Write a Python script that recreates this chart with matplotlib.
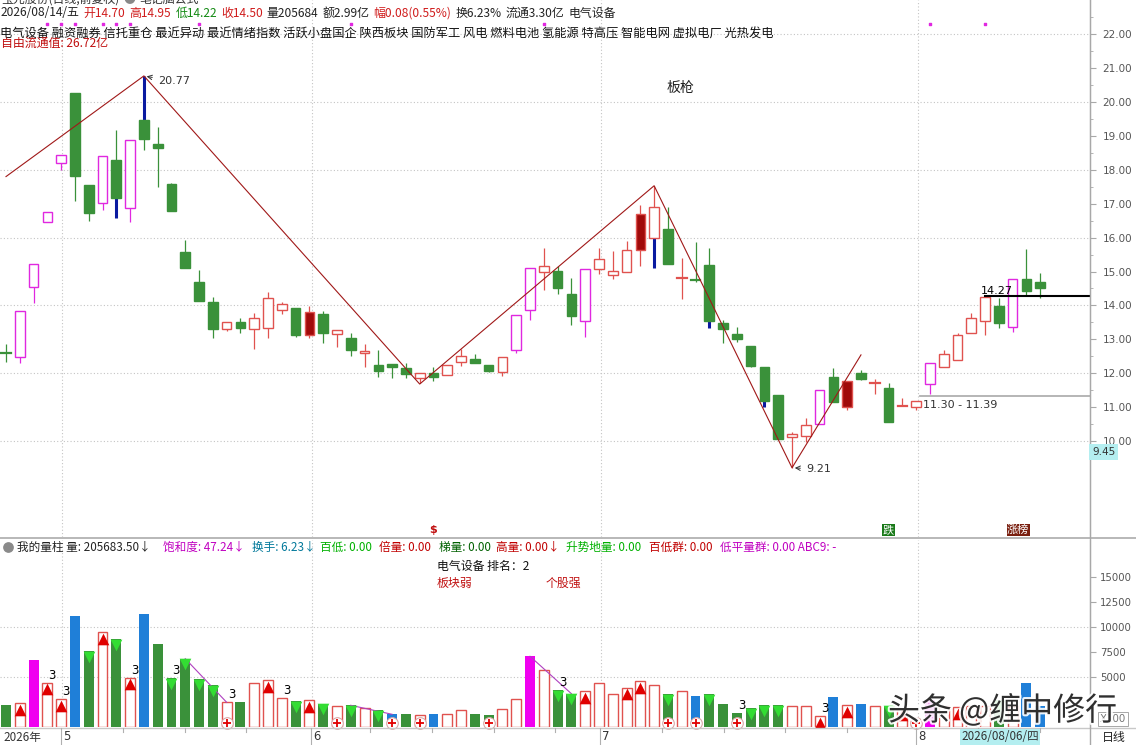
import matplotlib
matplotlib.use("Agg")
import matplotlib.pyplot as plt
import matplotlib.patches as mpatches
import matplotlib.patheffects as pe
import numpy as np

plt.rcParams['font.family'] = ['Noto Sans CJK SC', 'DejaVu Sans']

W, H = 1136, 745

# ---- daily candles (前复权) ----
opens = [12.60, 12.47, 14.55, 16.45, 18.19, 20.26, 17.54, 17.03, 18.29, 16.87,
         19.47, 18.75, 17.58, 15.58, 14.69, 14.10, 13.30, 13.50, 13.30, 13.32,
         13.86, 13.91, 13.82, 13.75, 13.16, 13.03, 12.59, 12.24, 12.26, 12.14,
         11.85, 12.00, 11.95, 12.32, 12.41, 12.23, 12.04, 12.67, 13.85, 14.98,
         15.01, 14.34, 13.55, 15.08, 14.89, 14.98, 16.70, 15.98, 16.25, 14.80,
         14.77, 15.19, 13.49, 13.15, 12.80, 12.19, 11.37, 10.13, 10.15, 10.49,
         11.89, 11.77, 12.00, 11.70, 11.56, 11.01, 11.01, 11.67, 12.17, 12.39,
         13.18, 13.54, 13.98, 13.35, 14.77, 14.70]
highs = [12.86, 13.83, 15.22, 16.75, 18.43, 20.28, 17.54, 18.40, 19.17, 18.88,
         20.77, 19.25, 17.62, 15.93, 15.04, 14.24, 13.50, 13.63, 13.77, 14.39,
         14.11, 13.91, 13.99, 13.83, 13.26, 13.18, 12.86, 12.68, 12.26, 12.31,
         12.00, 12.19, 12.24, 12.71, 12.56, 12.23, 12.47, 13.71, 15.09, 15.69,
         15.15, 14.82, 15.06, 15.69, 15.61, 15.91, 16.96, 17.53, 16.89, 15.40,
         15.88, 15.69, 13.57, 13.37, 12.80, 12.19, 11.37, 10.27, 10.67, 11.49,
         12.16, 11.77, 12.10, 11.83, 11.70, 11.26, 11.19, 12.31, 12.68, 13.20,
         13.77, 14.27, 14.21, 14.77, 15.66, 14.95]
lows = [12.34, 12.30, 14.06, 16.45, 17.99, 17.09, 16.48, 16.81, 16.59, 16.47,
        18.59, 17.50, 16.77, 15.09, 14.14, 13.05, 13.25, 13.18, 12.71, 13.03,
        13.75, 13.06, 13.05, 12.88, 12.78, 12.51, 12.19, 11.88, 11.85, 11.85,
        11.70, 11.78, 11.95, 12.22, 12.29, 12.04, 11.93, 12.61, 13.57, 14.45,
        14.34, 13.41, 13.08, 14.92, 14.77, 14.98, 15.17, 15.10, 15.21, 14.18,
        14.70, 13.34, 12.88, 12.91, 12.17, 10.99, 10.07, 9.21, 9.98, 10.49,
        11.16, 10.91, 11.80, 11.40, 10.57, 11.01, 10.91, 11.40, 12.17, 12.39,
        13.18, 13.13, 13.32, 13.23, 14.31, 14.22]
closes = [12.60, 13.83, 15.22, 16.75, 18.43, 17.83, 16.74, 18.40, 17.18, 18.88,
          18.92, 18.63, 16.77, 15.09, 14.14, 13.30, 13.50, 13.32, 13.62, 14.21,
          14.03, 13.14, 13.12, 13.19, 13.26, 12.68, 12.65, 12.07, 12.17, 11.97,
          12.00, 11.88, 12.24, 12.52, 12.29, 12.07, 12.47, 13.71, 15.09, 15.15,
          14.52, 13.70, 15.06, 15.37, 15.01, 15.63, 15.63, 16.89, 15.21, 14.82,
          14.76, 13.55, 13.31, 13.02, 12.21, 11.19, 10.07, 10.21, 10.47, 11.49,
          11.16, 10.99, 11.84, 11.72, 10.57, 11.02, 11.19, 12.31, 12.58, 13.13,
          13.62, 14.26, 13.47, 14.77, 14.43, 14.50]
# g=green solid, r=red hollow, m=magenta hollow, d=dark red solid
candle_kind = list("gmmmmggmgm" "ggggggrgrr" "rgdgrgrggg" "rgrrggrmmr"
                   "ggmrrrdrgr" "gggggggrrm" "gdgrgrrmrr" "rrgmgg")
blue_low_shadow = [8, 47, 51, 55]
blue_high_shadow = [10]

# zigzag turning points
zz_idx = [0, 10, 30, 47, 57, 62]
zz_px = [17.80, 20.77, 11.68, 17.53, 9.21, 12.54]

# magenta signal dots on the top row
dot_idx = [3, 4, 5, 7, 8, 9, 14, 25, 39, 67, 71]

# ---- volume (x100) ----
vol = [2170, 2400, 6670, 4430, 2770, 11100, 7570, 9500, 8770, 4930,
       11270, 8300, 4900, 6830, 4770, 4170, 2470, 2500, 4370, 4670,
       2930, 2600, 2670, 2330, 2070, 2170, 1930, 1670, 1270, 1270,
       1230, 1270, 1330, 1670, 1270, 1170, 1830, 2830, 7070, 5730,
       3670, 3330, 3570, 4430, 3330, 3930, 4570, 4230, 3270, 3570,
       3070, 3270, 2270, 1400, 1870, 2170, 2170, 2070, 2070, 1100,
       3000, 2170, 2270, 2070, 2130, 1830, 670, 2670, 2070, 2000,
       2070, 2070, 2670, 2070, 4400, 2057]
vol_kind = list("grmrrbgrgr" "bgggggrgrr" "rgrgrgrgbg" "rbrrggrrmr"
                "ggrrrrrrgr" "bggggggrrr" "brbrgrrmrr" "rrgrbb")
vol_up = [1, 3, 4, 7, 9, 19, 22, 42, 45, 46, 59, 61, 65, 69]
vol_down = [6, 8, 12, 13, 14, 15, 21, 23, 25, 27, 40, 41, 48, 51, 54, 55, 56, 64, 72]
vol_three = [3, 4, 9, 12, 16, 20, 40, 53, 59]
vol_plus = [16, 24, 28, 30, 35, 48, 50, 53, 66]
vol_links = [(13, 16), (25, 28), (38, 41)]

price_ticks = np.arange(10, 23)
vol_ticks = [5000, 7500, 10000, 12500, 15000]

GREEN = "#3a913a"
RED = "#e0524f"
MAG = "#e028e0"
DRED = "#a00a0a"
BLUE = "#0a1aa0"
VBLUE = "#1f7fd8"
GRID = "#c4c4c4"
AX = "#a8a8a8"

fig = plt.figure(figsize=(W / 100, H / 100), dpi=100)
fig.patch.set_facecolor("white")

def frac(x0, y0, x1, y1):
    return [x0 / W, 1 - y1 / H, (x1 - x0) / W, (y1 - y0) / H]

n = len(opens)
x_lo, x_hi = -6 / 13.79, (1090 - 6) / 13.79

# ---------- main price panel ----------
ax = fig.add_axes(frac(0, 0, 1090, 537))
ax.set_xlim(x_lo, x_hi)
ax.set_ylim(10 - 96 / 33.9, 10 + 441 / 33.9)
for s in ["top", "left", "bottom"]:
    ax.spines[s].set_visible(False)
ax.spines["right"].set_color(AX)
ax.yaxis.tick_right()
ax.set_yticks(price_ticks)
ax.set_yticklabels([f"{v:.2f}" for v in price_ticks], fontfamily="DejaVu Sans")
ax.set_yticks(np.arange(9.5, 23, 1.0), minor=True)
ax.tick_params(axis="y", which="major", length=4, color=AX, labelsize=7.5,
               labelcolor="#555555", pad=5)
ax.tick_params(axis="y", which="minor", length=2, color=AX)
ax.set_xticks([])

for p in range(10, 23, 2):
    ax.axhline(p, color=GRID, lw=0.8, ls=(0, (1, 2)), zorder=0)
for mi in [4.05, 22.2, 43.15, 66.1]:
    ax.axvline(mi, color=GRID, lw=0.8, ls=(0, (1, 2)), zorder=0)

bw = 0.7
for i in range(n):
    o, h, l, c, k = opens[i], highs[i], lows[i], closes[i], candle_kind[i]
    top, bot = max(o, c), min(o, c)
    if k == "g":
        col, fill = GREEN, GREEN
    elif k == "r":
        col, fill = RED, "white"
    elif k == "m":
        col, fill = MAG, "white"
    else:
        col, fill = RED, DRED
    lo_col = BLUE if i in blue_low_shadow else col
    hi_col = BLUE if i in blue_high_shadow else col
    lo_lw = 2.2 if i in blue_low_shadow else 0.9
    hi_lw = 2.2 if i in blue_high_shadow else 0.9
    ax.plot([i, i], [l, bot], color=lo_col, lw=lo_lw, zorder=2, solid_capstyle="butt")
    ax.plot([i, i], [top, h], color=hi_col, lw=hi_lw, zorder=2, solid_capstyle="butt")
    if top - bot < 0.04:
        ax.plot([i - bw / 2, i + bw / 2], [c, c], color=col, lw=1.6, zorder=3)
    else:
        ax.add_patch(mpatches.Rectangle((i - bw / 2, bot), bw, top - bot,
                                        facecolor=fill, edgecolor=col, lw=1.0, zorder=3))

ax.plot(zz_idx, zz_px, color="#a01818", lw=0.8, zorder=4)

ax.annotate("20.77", xy=(10, 20.77), xytext=(10, -4), textcoords="offset points",
            fontsize=8, color="#333333", va="center", fontfamily="DejaVu Sans",
            arrowprops=dict(arrowstyle="->", color="#333333", lw=0.7))
ax.annotate("9.21", xy=(57, 9.21), xytext=(10, -1), textcoords="offset points",
            fontsize=8, color="#333333", va="center", fontfamily="DejaVu Sans",
            arrowprops=dict(arrowstyle="->", color="#333333", lw=0.7))

ax.plot([71, x_hi], [14.27, 14.27], color="black", lw=1.5, zorder=5)
ax.text(71 - 0.3, 14.29, "14.27", fontsize=8, color="black", va="bottom",
        fontfamily="DejaVu Sans", zorder=5)
ax.plot([66.3, x_hi], [11.33, 11.33], color="#b0b0b0", lw=1.3, zorder=1)
ax.text(66.5, 11.05, "11.30 - 11.39", fontsize=8, color="#333333", va="center",
        fontfamily="DejaVu Sans")
ax.text(48.9, 20.4, "板枪", fontsize=10, color="#222222", ha="center", va="center")

xt = ax.get_xaxis_transform()
ax.scatter(dot_idx, [1 - 24 / 537] * len(dot_idx), marker="s", s=4, color=MAG,
           transform=xt, zorder=5, clip_on=False)
ax.text(31, 1 - 530 / 537, "$", transform=xt, fontsize=8, color="#c01010",
        ha="center", va="center", fontweight="bold", fontfamily="DejaVu Sans")
ax.text(64, 1 - 530 / 537, "跌", transform=xt, fontsize=8, color="white", ha="center",
        va="center", bbox=dict(boxstyle="square,pad=0.05", fc="#1a7a1a", ec="none"))
ax.text(73.4, 1 - 530 / 537, "涨榜", transform=xt, fontsize=8, color="white", ha="center",
        va="center", bbox=dict(boxstyle="square,pad=0.05", fc="#7a2010", ec="none"))

# ---------- volume panel ----------
av = fig.add_axes(frac(0, 540, 1090, 727))
av.set_xlim(x_lo, x_hi)
av.set_ylim(0, 18700)
for s in ["top", "left", "bottom"]:
    av.spines[s].set_visible(False)
av.spines["right"].set_color(AX)
av.yaxis.tick_right()
av.set_yticks(vol_ticks)
av.set_yticklabels([str(v) for v in vol_ticks], fontfamily="DejaVu Sans")
av.tick_params(axis="y", length=4, color=AX, labelsize=7.3, labelcolor="#555555", pad=3)
av.set_xticks([])
for v in [5000, 10000]:
    av.axhline(v, color=GRID, lw=0.8, ls=(0, (1, 2)), zorder=0)
for mi in [4.05, 22.2, 43.15, 66.1]:
    av.axvline(mi, color=GRID, lw=0.8, ls=(0, (1, 2)), zorder=0)

vcols = {"g": GREEN, "b": VBLUE, "m": "#f000f0"}
for i in range(n):
    k = vol_kind[i]
    if k == "r":
        av.bar(i, vol[i], width=0.72, facecolor="white", edgecolor=RED, lw=1.0, zorder=2)
    else:
        av.bar(i, vol[i], width=0.72, color=vcols[k], lw=0, zorder=2)

for a, b in vol_links:
    av.plot([a, b], [vol[a], vol[b]], color="#b040c0", lw=0.8, zorder=3)
av.scatter(vol_up, [vol[i] - 650 for i in vol_up], marker="^", s=70, color="#e00000",
           zorder=4, linewidths=0)
av.scatter(vol_down, [vol[i] - 550 for i in vol_down], marker="v", s=70, color="#33dd33",
           zorder=4, linewidths=0)
for i in vol_three:
    av.text(i + 0.35, vol[i] + 100, "3", fontsize=8.5, color="black", ha="center",
            va="bottom", fontfamily="DejaVu Sans", zorder=5)
av.scatter(vol_plus, [400] * len(vol_plus), marker="o", s=70, facecolor="white",
           edgecolor="#d9a8a8", lw=0.8, zorder=5, clip_on=False)
av.scatter(vol_plus, [400] * len(vol_plus), marker="+", s=30, color="#e00000",
           lw=1.3, zorder=6, clip_on=False)

# ---------- overlay for header texts, date strip ----------
ov = fig.add_axes([0, 0, 1, 1], zorder=10)
ov.set_xlim(0, W)
ov.set_ylim(H, 0)
ov.axis("off")
ov.patch.set_alpha(0)

ov.plot([0, W], [537.5, 537.5], color="#b8b8b8", lw=1.4)
ov.plot([0, W], [727.5, 727.5], color="#c8c8c8", lw=1.0)
ov.plot([1090, 1090], [0, H], color=AX, lw=1.0)

renderer = fig.canvas.get_renderer()

def runs(x, y, parts, size, gap=4):
    for s, c in parts:
        t = ov.text(x, y, s, color=c, fontsize=size, va="center", ha="left")
        x += t.get_window_extent(renderer).width + gap
    return x

RTXT = "#d01c1c"
GTXT = "#138a13"
runs(1, -1, [("宝光股份(日线,前复权)", "#333333"), ("●", "#888888"), ("笔记脑公式", "#333333")], 8.6)
runs(1, 13, [("2026/08/14/五", "#222222"), ("开14.70", RTXT), ("高14.95", RTXT),
             ("低14.22", GTXT), ("收14.50", RTXT), ("量205684", "#222222"),
             ("额2.99亿", "#222222"), ("幅0.08(0.55%)", RTXT), ("换6.23%", "#222222"),
             ("流通3.30亿", "#222222"), ("电气设备", "#222222")], 8.6)
ov.text(0, 34, "电气设备 融资融券 信托重仓 最近异动 最近情绪指数 活跃小盘国企 陕西板块 "
        "国防军工 风电 燃料电池 氢能源 特高压 智能电网 虚拟电厂 光热发电",
        fontsize=8.8, color="#111111", va="center")
ov.text(1, 43, "自由流通值: 26.72亿", fontsize=8.6, color="#c01010", va="center")

# volume indicator header, pieces placed where the reference has them
ov.scatter([8], [547], s=45, color="#8a8a8a", zorder=11)
vh_parts = [(17, "我的量柱 量: 205683.50↓", "#222222"), (163, "饱和度: 47.24↓", "#c000c0"),
            (252, "换手: 6.23↓", "#00789a"), (320, "百低: 0.00", "#00b000"),
            (379, "倍量: 0.00", "#c00000"), (439, "梯量: 0.00", "#006000"),
            (496, "高量: 0.00↓", "#c00000"), (566, "升势地量: 0.00", "#00b000"),
            (649, "百低群: 0.00", "#c00000"), (720, "低平量群: 0.00 ABC9: -", "#c000c0")]
for xp, s, c in vh_parts:
    ov.text(xp, 547, s, color=c, fontsize=8.4, va="center", ha="left")
ov.text(437, 566, "电气设备 排名：2", fontsize=8.6, color="#111111", va="center")
ov.text(437, 583, "板块弱", fontsize=8.6, color="#c01010", va="center")
ov.text(546, 583, "个股强", fontsize=8.6, color="#c01010", va="center")

# right axis extras
ov.text(1092, 452, "9.45", fontsize=7.6, color="#333333", va="center", fontfamily="DejaVu Sans",
        bbox=dict(boxstyle="square,pad=0.25", fc="#b4eef0", ec="none"))
ov.text(1113, 719, "X100", fontsize=7.4, color="#777777", va="center", ha="center",
        fontfamily="DejaVu Sans", bbox=dict(boxstyle="square,pad=0.15", fc="white", ec="#999999", lw=0.6))

# date strip
ov.text(3, 737, "2026年", fontsize=8.4, color="#333333", va="center")
for xm, lab in [(61, "5"), (311, "6"), (600, "7"), (916, "8")]:
    ov.plot([xm, xm], [728, 745], color="#b0b0b0", lw=0.8)
    ov.text(xm + 2, 737, lab, fontsize=8.4, color="#333333", va="center", fontfamily="DejaVu Sans")
for xm in [123, 185, 246, 370, 432, 494, 555, 662, 724, 785, 847, 978, 1040]:
    ov.plot([xm, xm], [728, 732], color="#b0b0b0", lw=0.8)
ov.text(961, 737, "2026/08/06/四", fontsize=8.4, color="#333333", va="center",
        bbox=dict(boxstyle="square,pad=0.1", fc="#b4eef0", ec="none"))
ov.text(1102, 737, "日线", fontsize=8.6, color="#222222", va="center")

# watermark
ov.text(888, 711, "头条 @缠中修行", fontsize=23, color="#1a1a1a", va="center", alpha=0.9,
        path_effects=[pe.withStroke(linewidth=3, foreground="white")])

fig.savefig("out.png", dpi=100, facecolor="white")
